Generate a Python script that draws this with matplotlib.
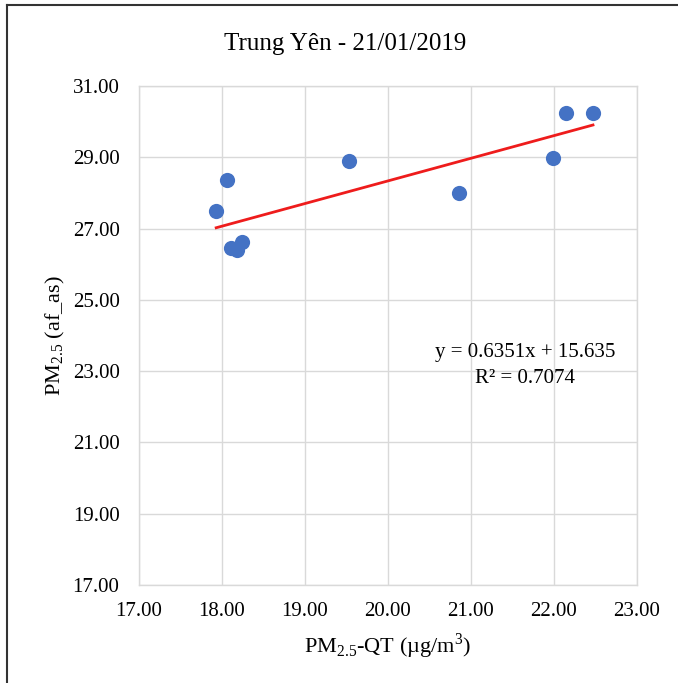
import matplotlib
matplotlib.use("Agg")
import matplotlib.pyplot as plt
from matplotlib.lines import Line2D

plt.rcParams['font.family'] = 'Liberation Serif'
plt.rcParams['mathtext.fontset'] = 'custom'
plt.rcParams['mathtext.rm'] = 'Liberation Serif'

# data
pm_qt = [17.93, 18.06, 18.11, 18.18, 18.24, 19.53, 20.85, 21.99, 22.15, 22.47]
pm_af = [27.50, 28.37, 26.46, 26.40, 26.63, 28.89, 27.99, 28.99, 30.23, 30.25]
slope = 0.6351
intercept = 15.635
r2 = 0.7074
x_ticks = [17, 18, 19, 20, 21, 22, 23]
y_ticks = [17, 19, 21, 23, 25, 27, 29, 31]

fig = plt.figure(figsize=(6.78, 6.83), dpi=100)
ax = fig.add_axes([0.205, 0.1435, 0.7345, 0.7306])

ax.scatter(pm_qt, pm_af, s=120, color='#4472C4', zorder=3, linewidths=0)
xs = [min(pm_qt), max(pm_qt)]
ax.plot(xs, [slope * v + intercept for v in xs], color='#ee1c1c', lw=2.0, zorder=2)

ax.set_xlim(17, 23)
ax.set_ylim(17, 31)
ax.set_xticks(x_ticks)
ax.set_yticks(y_ticks)
ax.set_xticklabels(['%.2f' % v for v in x_ticks])
ax.set_yticklabels(['%.2f' % v for v in y_ticks])
ax.tick_params(length=0, labelsize=15)
ax.tick_params(axis='y', pad=14)
ax.tick_params(axis='x', pad=12)
ax.grid(True, color='#d9d9d9', lw=1.0)
ax.set_axisbelow(True)
for s in ax.spines.values():
    s.set_color('#d9d9d9')
    s.set_linewidth(1.0)

ax.set_xlabel(r'PM$_{\mathregular{2.5}}$-QT (µg/m$^{\mathregular{3}}$)', fontsize=16, labelpad=8)
ax.set_ylabel(r'PM$_{\mathregular{2.5}}$ (af_as)', fontsize=16, labelpad=4)
fig.text(0.509, 0.936, 'Trung Yên - 21/01/2019', fontsize=18, ha='center', va='center')

ax.text(0.775, 0.465, 'y = %.4fx + %.3f' % (slope, intercept), transform=ax.transAxes,
        fontsize=15, ha='center', va='center')
ax.text(0.775, 0.413, 'R² = %.4f' % r2, transform=ax.transAxes,
        fontsize=15, ha='center', va='center')

# outer frame (left and top edges visible)
fig.add_artist(Line2D([0.011, 0.011], [0, 0.993], transform=fig.transFigure, color='#333333', lw=1.5))
fig.add_artist(Line2D([0.011, 1.0], [0.993, 0.993], transform=fig.transFigure, color='#333333', lw=1.5))

fig.savefig('out.png', dpi=100)
